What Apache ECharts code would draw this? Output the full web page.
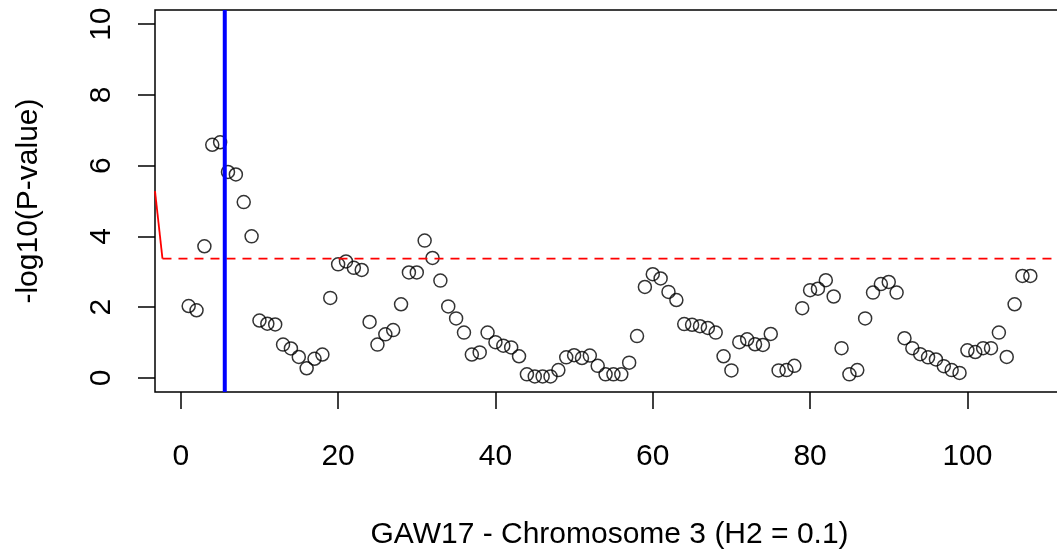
<!DOCTYPE html>
<html>
<head>
<meta charset="utf-8">
<script src="https://cdn.jsdelivr.net/npm/echarts@6/dist/echarts.min.js"></script>
<style>
  html, body { margin: 0; padding: 0; background: #fff; }
  #chart { width: 1057px; height: 552px; }
</style>
</head>
<body>
<div id="chart"></div>
<script>
// marker positions along chromosome 3 (index of marker)
const positions = [
  1, 2, 3, 4, 5, 6, 7, 8, 9, 10, 11, 12, 13, 14, 15, 16, 17, 18, 19, 20,
  21, 22, 23, 24, 25, 26, 27, 28, 29, 30, 31, 32, 33, 34, 35, 36, 37, 38, 39, 40,
  41, 42, 43, 44, 45, 46, 47, 48, 49, 50, 51, 52, 53, 54, 55, 56, 57, 58, 59, 60,
  61, 62, 63, 64, 65, 66, 67, 68, 69, 70, 71, 72, 73, 74, 75, 76, 77, 78, 79, 80,
  81, 82, 83, 84, 85, 86, 87, 88, 89, 90, 91, 92, 93, 94, 95, 96, 97, 98, 99, 100,
  101, 102, 103, 104, 105, 106, 107, 108
];

// -log10(p) for each marker
const logP = [
  2.03, 1.91, 3.72, 6.59, 6.66, 5.82, 5.75, 4.97, 4.00, 1.62,
  1.53, 1.51, 0.94, 0.83, 0.59, 0.27, 0.54, 0.66, 2.26, 3.21,
  3.29, 3.11, 3.05, 1.58, 0.94, 1.23, 1.35, 2.08, 2.98, 2.98,
  3.88, 3.39, 2.75, 2.02, 1.68, 1.28, 0.66, 0.72, 1.28, 1.01,
  0.91, 0.86, 0.61, 0.10, 0.04, 0.04, 0.04, 0.22, 0.58, 0.64,
  0.56, 0.63, 0.34, 0.10, 0.10, 0.10, 0.43, 1.18, 2.57, 2.93,
  2.81, 2.43, 2.20, 1.52, 1.50, 1.46, 1.41, 1.28, 0.61, 0.21,
  1.01, 1.09, 0.95, 0.93, 1.24, 0.21, 0.22, 0.34, 1.97, 2.48,
  2.52, 2.76, 2.30, 0.84, 0.10, 0.22, 1.68, 2.41, 2.65, 2.71,
  2.41, 1.12, 0.84, 0.67, 0.58, 0.52, 0.33, 0.22, 0.14, 0.78,
  0.73, 0.84, 0.84, 1.28, 0.59, 2.08, 2.88, 2.88
];

const xTicks = [0, 20, 40, 60, 80, 100];
const yTicks = [0, 2, 4, 6, 8, 10];

// plot range (R style: data range padded by 4%)
const xRange = [-3.28, 112.28];
const yRange = [-0.4, 10.4];

// significance threshold and the peak marker position
const threshold = 3.37;
const peakPos = 5.59;
// red curve coming in from the left edge
const redCurveX = [-3.28, -2.33];
const redCurveY = [5.28, 3.37];

const FONT = 'Liberation Sans, Arial, Helvetica, sans-serif';

const chart = echarts.init(document.getElementById('chart'));

const option = {
  animation: false,
  backgroundColor: '#fff',
  grid: {
    left: 155,
    top: 10,
    width: 909,   // box runs past the right edge, like the original
    height: 382,
    outerBoundsMode: 'none',
    containLabel: false,
    show: true,
    borderColor: '#000',
    borderWidth: 1.5,
    backgroundColor: 'transparent'
  },
  xAxis: {
    type: 'value',
    min: xRange[0],
    max: xRange[1],
    name: 'GAW17 - Chromosome 3 (H2 = 0.1)',
    nameLocation: 'middle',
    nameGap: 128,
    nameTextStyle: { fontFamily: FONT, fontSize: 30, color: '#000' },
    axisLine: { show: false, onZero: false },
    splitLine: { show: false },
    axisTick: {
      show: true,
      inside: false,
      length: 17,
      customValues: xTicks,
      lineStyle: { color: '#000', width: 1.5 }
    },
    axisLabel: {
      customValues: xTicks,
      margin: 50,
      fontFamily: FONT,
      fontSize: 30,
      color: '#000'
    }
  },
  yAxis: {
    type: 'value',
    min: yRange[0],
    max: yRange[1],
    name: '-log10(P-value)',
    nameLocation: 'middle',
    nameGap: 111,
    nameRotate: 90,
    nameTextStyle: { fontFamily: FONT, fontSize: 30, color: '#000' },
    axisLine: { show: false, onZero: false },
    splitLine: { show: false },
    axisTick: {
      show: true,
      inside: false,
      length: 17,
      customValues: yTicks,
      lineStyle: { color: '#000', width: 1.5 }
    },
    axisLabel: {
      customValues: yTicks,
      rotate: 90,
      margin: 38,
      fontFamily: FONT,
      fontSize: 30,
      color: '#000'
    }
  },
  series: [
    {
      name: 'markers',
      type: 'scatter',
      symbol: 'circle',
      symbolSize: 13,
      itemStyle: { color: 'rgba(0,0,0,0)', borderColor: '#000', borderWidth: 1.5 },
      data: positions.map((p, i) => [p, logP[i]]),
      z: 2
    },
    {
      name: 'threshold',
      type: 'line',
      symbol: 'none',
      lineStyle: { color: '#ff0000', width: 1.8, type: [9, 7] },
      data: [[redCurveX[1], threshold], [xRange[1], threshold]],
      z: 3
    },
    {
      name: 'curve',
      type: 'line',
      symbol: 'none',
      lineStyle: { color: '#ff0000', width: 1.8 },
      data: redCurveX.map((x, i) => [x, redCurveY[i]]),
      z: 3
    },
    {
      name: 'peak',
      type: 'line',
      symbol: 'none',
      lineStyle: { color: '#0000ff', width: 4 },
      data: [[peakPos, yRange[0]], [peakPos, yRange[1]]],
      z: 4
    }
  ]
};

chart.setOption(option);
</script>
</body>
</html>
